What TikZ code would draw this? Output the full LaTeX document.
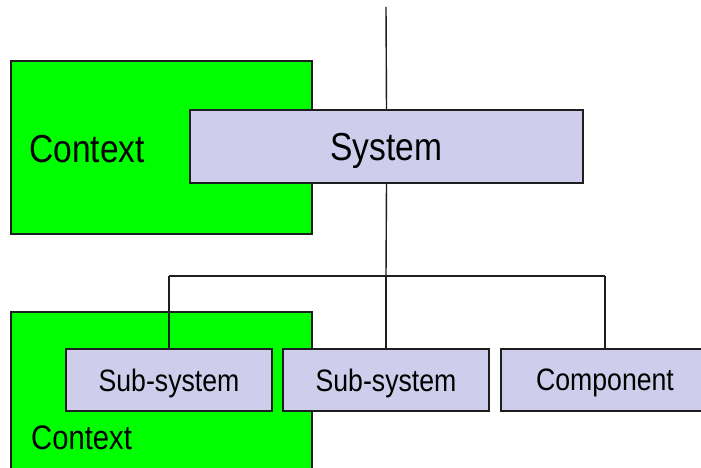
\documentclass[tikz,border=0pt]{standalone}
\usepackage{graphicx}
\usepackage{fontspec}
\setmainfont{Liberation Sans}
\definecolor{ctxgreen}{RGB}{0,255,0}
\definecolor{boxblue}{RGB}{206,206,236}
\definecolor{edge}{RGB}{30,30,30}
\newcommand{\narrow}[1]{\scalebox{0.86}[1]{#1}}
\tikzset{
  ctxbox/.style={draw=edge, line width=1.4pt, fill=ctxgreen, inner sep=0pt, outer sep=0pt},
  partbox/.style={draw=edge, line width=1.4pt, fill=boxblue, inner sep=0pt, outer sep=0pt, text depth=0pt},
  wire/.style={draw=edge, line width=1.4pt},
  biglabel/.style={inner sep=0pt, font=\fontsize{39}{39}\selectfont},
  smalllabel/.style={inner sep=0pt, font=\fontsize{31}{31}\selectfont},
}
\begin{document}
\begin{tikzpicture}[x=1pt, y=1pt]
  \useasboundingbox (0,0) rectangle (701,-468);
  \clip (0,0) rectangle (701,-468);
  \fill[white] (0,0) rectangle (701,-468);

  % context regions
  \node[ctxbox, minimum width=301pt, minimum height=173pt] (ctxA) at (161.5,-147.5) {};
  \node[ctxbox, minimum width=301pt, minimum height=180pt] (ctxB) at (161.5,-402) {};
  \node[biglabel, anchor=base west] (ctxAlabel) at (29,-162) {\narrow{Context}};
  \node[inner sep=0pt, anchor=base west, font=\fontsize{34}{34}\selectfont] (ctxBlabel) at (31,-449) {\narrow{Context}};

  % system and its parts
  \node[partbox, minimum width=393pt, minimum height=73pt, biglabel] (sys) at (386.5,-146.5) {\narrow{System}};
  \node[partbox, minimum width=206pt, minimum height=62pt, smalllabel] (sub1) at (169,-380) {\narrow{Sub-system}};
  \node[partbox, minimum width=206pt, minimum height=62pt, smalllabel] (sub2) at (386,-380) {\narrow{Sub-system}};
  \node[partbox, minimum width=208pt, minimum height=62pt, smalllabel] (comp) at (605,-380) {\narrow{Component}};

  % connectors
  \coordinate (topend) at (386,-7);
  \coordinate (busL) at (169,-276);
  \coordinate (busM) at (386,-276);
  \coordinate (busR) at (605,-276);
  \draw[wire] (topend) -- (sys.north);
  \draw[wire] (sys.south) -- (busM);
  \draw[wire] (busL) -- (busR);
  \draw[wire] (busL) -- (sub1.north);
  \draw[wire] (busM) -- (sub2.north);
  \draw[wire] (busR) -- (comp.north);
\end{tikzpicture}
\end{document}
